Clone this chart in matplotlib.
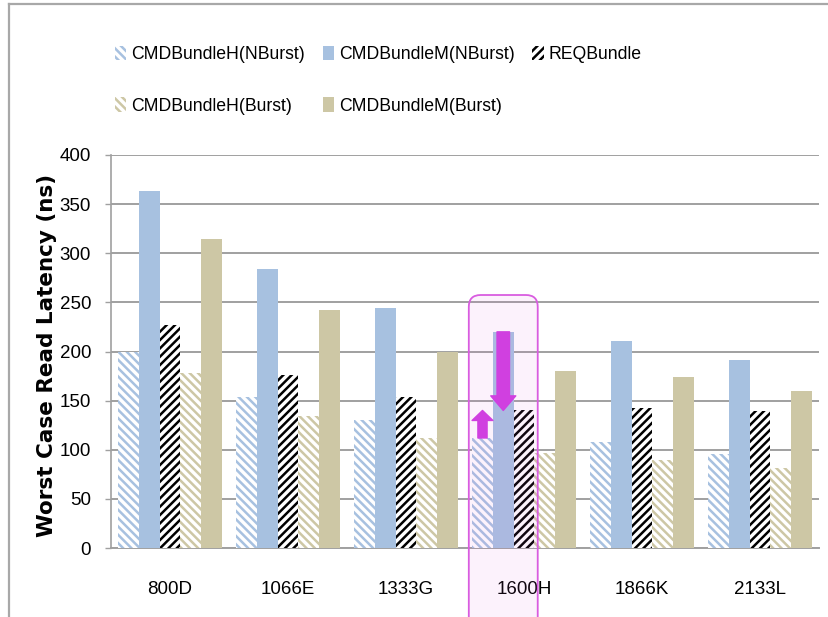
import matplotlib
matplotlib.use("Agg")
import matplotlib.pyplot as plt
import numpy as np
from matplotlib.patches import FancyBboxPatch
from matplotlib.lines import Line2D

plt.rcParams['font.family'] = ['Liberation Sans', 'DejaVu Sans']
plt.rcParams['hatch.linewidth'] = 1.8

categories = ["800D", "1066E", "1333G", "1600H", "1866K", "2133L"]
series = ["CMDBundleH(NBurst)", "CMDBundleM(NBurst)", "REQBundle",
          "CMDBundleH(Burst)", "CMDBundleM(Burst)"]
h_nburst = [200, 154, 130, 112, 108, 96]
m_nburst = [363, 284, 244, 220, 211, 191]
req = [227, 176, 154, 140, 142, 139]
h_burst = [178, 134, 112, 97, 90, 81]
m_burst = [315, 242, 199, 180, 174, 160]
yticks = [0, 50, 100, 150, 200, 250, 300, 350, 400]

blue = "#a7c1e0"
tan = "#cdc7a5"
styles = [
    dict(facecolor="white", edgecolor=blue, hatch="\\\\\\\\"),
    dict(facecolor=blue, edgecolor=blue, hatch=None),
    dict(facecolor="white", edgecolor="black", hatch="////"),
    dict(facecolor="white", edgecolor=tan, hatch="\\\\\\\\"),
    dict(facecolor=tan, edgecolor=tan, hatch=None),
]
values = [h_nburst, m_nburst, req, h_burst, m_burst]

fig = plt.figure(figsize=(8.29, 6.17), dpi=100)
ax = fig.add_axes([0.1339, 0.1118, 0.9880 - 0.1339, 0.7488 - 0.1118])

x = np.arange(len(categories))
w = 0.176
handles = {}
for i, (name, vals, st) in enumerate(zip(series, values, styles)):
    bars = ax.bar(x + (i - 2) * w, vals, w, linewidth=0, zorder=3, label=name, **st)
    handles[name] = bars

ax.set_xlim(-0.5, len(categories) - 0.5)
ax.set_ylim(0, 400)
ax.set_yticks(yticks)
ax.set_xticks(x)
ax.set_xticklabels(categories)
ax.yaxis.grid(True, color="#a0a0a0", linewidth=1.4, zorder=0)
ax.set_axisbelow(True)
for s in ["top", "right"]:
    ax.spines[s].set_visible(False)
ax.spines["left"].set_color("#a0a0a0")
ax.spines["left"].set_linewidth(1.2)
ax.spines["bottom"].set_color("#a0a0a0")
ax.spines["bottom"].set_linewidth(1.4)
ax.tick_params(axis="y", length=4.3, width=1.0, color="#a0a0a0", pad=10, labelsize=13.5)
ax.tick_params(axis="x", length=0, pad=24, labelsize=13.5)
ax.set_ylabel("Worst Case Read Latency (ns)", fontsize=15.5, fontweight="bold",
              family="DejaVu Sans")
ax.yaxis.set_label_coords(-0.076, 0.49)

# legend: column-major order gives the two-row layout
order = [series[0], series[3], series[1], series[4], series[2]]
leg = fig.legend([handles[n] for n in order], order, ncol=3, loc="upper left",
                 bbox_to_anchor=(0.130, 0.937), frameon=False, fontsize=12.7,
                 handlelength=0.63, handleheight=0.85, handletextpad=0.3,
                 columnspacing=1.0, labelspacing=1.95, borderaxespad=0)

# highlight around 1600H, centred on its CMDBundleM(NBurst) bar
k = categories.index("1600H")
xc = k - w
box = FancyBboxPatch((xc - 0.292, -90), 0.584, 257.5 + 90,
                     boxstyle="round,pad=0,rounding_size=0.1", mutation_aspect=120,
                     facecolor="#e060e0", alpha=0.08, edgecolor="none",
                     zorder=4, clip_on=False)
ax.add_patch(box)
edge = FancyBboxPatch((xc - 0.292, -90), 0.584, 257.5 + 90,
                      boxstyle="round,pad=0,rounding_size=0.1", mutation_aspect=120,
                      facecolor="none", edgecolor="#d95ce0", linewidth=1.3,
                      zorder=5, clip_on=False)
ax.add_patch(edge)

arrow_c = "#d040e0"
ax.annotate("", xy=(k - w, req[k]), xytext=(k - w, m_nburst[k]),
            arrowprops=dict(arrowstyle="simple,head_width=1.2,head_length=0.7,tail_width=0.6",
                            mutation_scale=15, color=arrow_c, shrinkA=0, shrinkB=0),
            zorder=6)
ax.annotate("", xy=(k - 2 * w, req[k]), xytext=(k - 2 * w, h_nburst[k]),
            arrowprops=dict(arrowstyle="simple,head_width=1.25,head_length=0.6,tail_width=0.55",
                            mutation_scale=12, color=arrow_c, shrinkA=0, shrinkB=0),
            zorder=6)

# chart border (partially outside the image)
fig.add_artist(Line2D([9 / 829, 1.0], [1 - 4 / 617, 1 - 4 / 617], transform=fig.transFigure,
                      color="#a8a8a8", linewidth=1.6))
fig.add_artist(Line2D([9 / 829, 9 / 829], [0, 1 - 4 / 617], transform=fig.transFigure,
                      color="#a8a8a8", linewidth=1.6))

fig.savefig("out.png", dpi=100)
